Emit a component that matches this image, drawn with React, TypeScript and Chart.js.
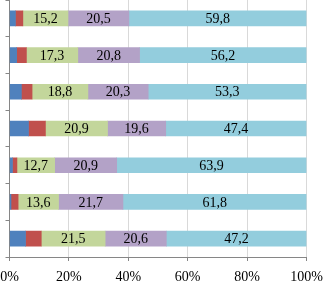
import React, { useEffect, useRef } from "react";
import { Chart, registerables } from "chart.js";

Chart.register(...registerables);

const categories = ["1", "2", "3", "4", "5", "6", "7"];
const seriesBlue = [2.0, 2.4, 4.0, 6.4, 1.0, 0.5, 5.4];
const seriesRed = [2.5, 3.3, 3.6, 5.7, 1.5, 2.4, 5.3];
const seriesGreen = [15.2, 17.3, 18.8, 20.9, 12.7, 13.6, 21.5];
const seriesPurple = [20.5, 20.8, 20.3, 19.6, 20.9, 21.7, 20.6];
const seriesCyan = [59.8, 56.2, 53.3, 47.4, 63.9, 61.8, 47.2];
const xTicks = [0, 20, 40, 60, 80, 100];

const colors = ["#4F81BD", "#C0504D", "#C3D69B", "#B3A2C7", "#93CDDD"];
const labelledSeries = [2, 3, 4];

const fontFamily = "'Liberation Serif', 'Times New Roman', serif";

const labelPlugin = {
  id: "segLabels",
  afterDatasetsDraw(chart: any) {
    const ctx = chart.ctx;
    ctx.save();
    ctx.font = `14px ${fontFamily}`;
    ctx.fillStyle = "#000";
    ctx.textAlign = "center";
    ctx.textBaseline = "middle";
    labelledSeries.forEach((di) => {
      const meta = chart.getDatasetMeta(di);
      const data = chart.data.datasets[di].data as number[];
      meta.data.forEach((el: any, i: number) => {
        const { x, base, y } = el.getProps(["x", "base", "y"], true);
        ctx.fillText(data[i].toFixed(1).replace(".", ","), (x + base) / 2, y + 1);
      });
    });
    ctx.restore();
  },
};

export default function App() {
  const ref = useRef<HTMLCanvasElement>(null);
  useEffect(() => {
    const series = [seriesBlue, seriesRed, seriesGreen, seriesPurple, seriesCyan];
    const chart = new Chart(ref.current!, {
      type: "bar",
      data: {
        labels: categories,
        datasets: series.map((d, i) => ({
          label: "S" + (i + 1),
          data: d,
          backgroundColor: colors[i],
          borderWidth: 0,
          barThickness: 15,
        })),
      },
      options: {
        indexAxis: "y",
        animation: false,
        responsive: false,
        maintainAspectRatio: false,
        layout: { padding: { left: 5.5, right: 18.5, top: 0, bottom: 0 } },
        plugins: { legend: { display: false }, tooltip: { enabled: false } },
        scales: {
          x: {
            stacked: true,
            min: 0,
            max: 100,
            afterBuildTicks: (s: any) => {
              s.ticks = xTicks.map((v) => ({ value: v }));
            },
            afterFit: (s: any) => {
              s.height = 24;
              s.paddingLeft = 0;
              s.paddingRight = 0;
            },
            ticks: {
              callback: (v: any) => v + "%",
              color: "#000",
              font: { family: fontFamily, size: 14, lineHeight: 1 },
              padding: 9,
              maxRotation: 0,
            },
            grid: { color: "#D9D9D9", tickLength: 4, tickColor: "#868686" },
            border: { color: "#868686" },
          },
          y: {
            stacked: true,
            ticks: { display: false },
            afterFit: (s: any) => {
              s.width = 4;
              s.paddingTop = 0;
              s.paddingBottom = 0;
            },
            grid: { display: true, drawOnChartArea: false, tickLength: 4, tickColor: "#868686", offset: true },
            border: { color: "#868686" },
          },
        },
      },
      plugins: [labelPlugin],
    });
    return () => chart.destroy();
  }, []);
  return (
    <div style={{ position: "absolute", left: 0, top: 0, width: 325, height: 281 }}>
      <canvas ref={ref} width={325} height={281} style={{ display: "block" }} />
    </div>
  );
}
